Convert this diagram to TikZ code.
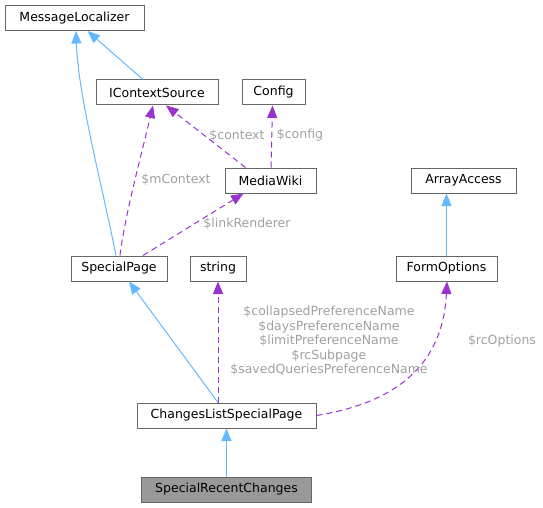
\documentclass[tikz,border=0pt]{standalone}
\usepackage{fontspec}
\setmainfont{DejaVu Sans}
\usetikzlibrary{arrows.meta}
\definecolor{inhblue}{HTML}{63B8FF}
\definecolor{usepurple}{HTML}{9A32CD}
\definecolor{lblgray}{HTML}{A0A0A0}
\definecolor{boxgray}{HTML}{666666}
\definecolor{selgray}{HTML}{999999}
\begin{document}
\begin{tikzpicture}[x=1pt, y=-1pt, >={Triangle[length=12.5pt,width=10pt]},
    cls/.style={draw=boxgray, line width=1pt, fill=white, minimum height=25pt, inner sep=0pt, font=\fontsize{12.5}{14}\selectfont},
    inh/.style={->, draw=inhblue, line width=1pt},
    use/.style={->, draw=usepurple, line width=1pt, dash pattern=on 6pt off 4pt},
    lbl/.style={text=lblgray, inner sep=0pt, align=center, font=\fontsize{12.5}{14.5}\selectfont}]
\useasboundingbox (0,0) rectangle (543,508);
% classes
\node[cls, minimum width=139pt] (ml) at (74.5,18) {MessageLocalizer};
\node[cls, minimum width=122pt] (ics) at (157,92.5) {IContextSource};
\node[cls, minimum width=63pt] (cfg) at (273.5,92.5) {Config};
\node[cls, minimum width=91pt] (mw) at (270.5,180.5) {MediaWiki};
\node[cls, minimum width=105pt] (aa) at (463.5,180.5) {ArrayAccess};
\node[cls, minimum width=96pt] (sp) at (119,268.5) {SpecialPage};
\node[cls, minimum width=56pt] (str) at (218,268.5) {string};
\node[cls, minimum width=101pt] (fo) at (446.5,268.5) {FormOptions};
\node[cls, minimum width=179pt] (clsp) at (226.5,415.5) {ChangesListSpecialPage};
\node[cls, minimum width=170pt, fill=selgray] (src) at (226.5,489.5) {SpecialRecentChanges};
% inheritance
\draw[inh] ([xshift=-3pt]sp.north) .. controls (102,185) and (78,95) .. ([xshift=1.5pt]ml.south);
\draw[inh] ([xshift=-14pt]ics.north) -- ([xshift=13pt]ml.south);
\draw[inh] (fo.north) -- ([xshift=-17pt]aa.south);
\draw[inh] ([xshift=-8.5pt]clsp.north) -- ([xshift=10pt]sp.south);
\draw[inh] (src.north) -- (clsp.south);
% usage
\draw[use] ([xshift=1pt]sp.north) .. controls (124,220) and (140,160) .. ([xshift=-4pt]ics.south);
\draw[use] ([xshift=-25pt]mw.north) -- ([xshift=9pt]ics.south);
\draw[use] ([xshift=0.5pt]mw.north) -- ([xshift=-1pt]cfg.south);
\draw[use] ([xshift=24pt]sp.north) -- ([xshift=-27pt]mw.south);
\draw[use] ([xshift=-8.5pt]clsp.north) -- (str.south);
\draw[use] (clsp.east) .. controls (400,402) and (443,362) .. ([xshift=0.5pt]fo.south);
% labels
\node[lbl] (lmctx) at (176,180) {\$mContext};
\node[lbl] (lctx) at (237,135.5) {\$context};
\node[lbl] (lcfg) at (300,135.5) {\$config};
\node[lbl] (llr) at (247,224) {\$linkRenderer};
\node[lbl] (lstr) at (329,341) {\$collapsedPreferenceName\\\$daysPreferenceName\\\$limitPreferenceName\\\$rcSubpage\\\$savedQueriesPreferenceName};
\node[lbl] (lrco) at (502,341) {\$rcOptions};
\end{tikzpicture}
\end{document}
